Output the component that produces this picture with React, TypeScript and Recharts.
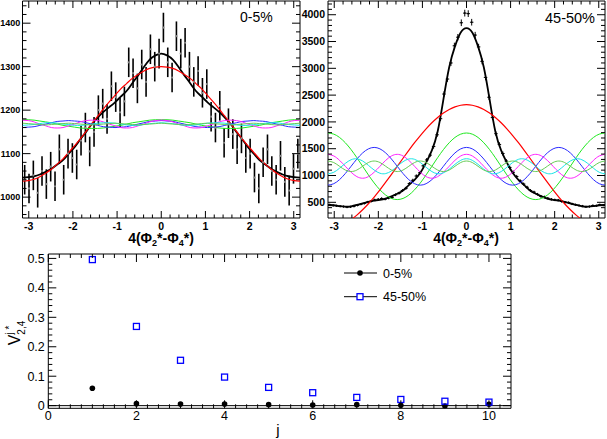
import React from 'react';
import { ComposedChart, Line, Scatter, XAxis, YAxis, ErrorBar, ReferenceArea, ReferenceLine } from 'recharts';

const PI = Math.PI;
const FONT = "'Liberation Sans', Arial, Helvetica, sans-serif";

// ---------------- bottom panel: V_{2,4}^{j*} vs j ----------------
const J_VALUES = [1, 2, 3, 4, 5, 6, 7, 8, 9, 10];
const V_CENT_0_5 = [0.059, 0.0068, 0.0056, 0.0056, 0.0034, 0.0023, 0.0034, 0.001, -0.001, 0.0045];
const V_CENT_45_50 = [0.496, 0.269, 0.154, 0.097, 0.062, 0.044, 0.028, 0.021, 0.015, 0.012];

// ---------------- top panels: curves read at phi = k*pi/24, k = 0..24 (even in phi) ----------------
const LEFT_FIT = [1330, 1326, 1316, 1299, 1280, 1262, 1244, 1231, 1218, 1207, 1196, 1183, 1168, 1150, 1133, 1115, 1100, 1085, 1075, 1065, 1058, 1052, 1048, 1046, 1045];
const LEFT_H1 = [1300, 1299, 1296, 1290, 1282, 1273, 1261, 1249, 1234, 1219, 1203, 1186, 1169, 1151, 1134, 1118, 1103, 1088, 1076, 1064, 1055, 1047, 1041, 1038, 1037];
const LEFT_H2 = [1178, 1178, 1177, 1175, 1173, 1171, 1168, 1165, 1163, 1161, 1159, 1158, 1158, 1158, 1159, 1161, 1163, 1165, 1168, 1171, 1173, 1175, 1177, 1178, 1178];
const LEFT_H3 = [1176, 1175, 1174, 1171, 1168, 1165, 1162, 1161, 1160, 1161, 1162, 1165, 1168, 1171, 1174, 1175, 1176, 1175, 1174, 1171, 1168, 1165, 1162, 1161, 1160];
const LEFT_H4 = [1177, 1176, 1173, 1168, 1164, 1160, 1159, 1160, 1164, 1168, 1173, 1176, 1177, 1176, 1173, 1168, 1164, 1160, 1159, 1160, 1164, 1168, 1173, 1176, 1177];
const LEFT_H5 = [1171, 1170, 1169, 1167, 1165, 1165, 1166, 1168, 1170, 1171, 1171, 1170, 1168, 1166, 1165, 1165, 1167, 1168, 1170, 1171, 1171, 1169, 1167, 1166, 1165];
const LEFT_H6 = [1170, 1169, 1168, 1167, 1166, 1167, 1168, 1169, 1170, 1169, 1168, 1167, 1166, 1167, 1168, 1169, 1170, 1169, 1168, 1167, 1166, 1167, 1168, 1169, 1170];

const RIGHT_FIT = [3750, 3670, 3410, 3020, 2420, 1820, 1470, 1240, 1050, 920, 820, 720, 660, 610, 570, 545, 530, 510, 480, 450, 425, 420, 430, 445, 450];
const RIGHT_H1 = [2321, 2311, 2281, 2233, 2167, 2083, 1984, 1871, 1746, 1612, 1469, 1322, 1172, 1022, 875, 732, 598, 473, 360, 261, 177, 111, 63, 33, 23];
const RIGHT_H2 = [1793, 1772, 1710, 1611, 1483, 1333, 1172, 1011, 861, 733, 634, 572, 551, 572, 634, 733, 861, 1011, 1172, 1333, 1483, 1611, 1710, 1772, 1793];
const RIGHT_H3 = [1524, 1497, 1421, 1307, 1172, 1037, 923, 847, 820, 847, 923, 1037, 1172, 1307, 1421, 1497, 1524, 1497, 1421, 1307, 1172, 1037, 923, 847, 820];
const RIGHT_H4 = [1395, 1365, 1283, 1172, 1061, 979, 949, 979, 1061, 1172, 1283, 1365, 1395, 1365, 1283, 1172, 1061, 979, 949, 979, 1061, 1172, 1283, 1365, 1395];
const RIGHT_H5 = [1313, 1283, 1208, 1118, 1050, 1033, 1073, 1154, 1242, 1302, 1308, 1258, 1172, 1086, 1036, 1042, 1102, 1190, 1271, 1311, 1294, 1226, 1136, 1060, 1031];
const RIGHT_H6 = [1270, 1242, 1172, 1102, 1074, 1102, 1172, 1242, 1270, 1242, 1172, 1102, 1074, 1102, 1172, 1242, 1270, 1242, 1172, 1102, 1074, 1102, 1172, 1242, 1270];

// ---------------- top panels: histogram points, listed outward from phi = 0 ----------------
const LEFT_BINS = 64;
const LEFT_DATA_POS = [1390, 1310, 1275, 1370, 1330, 1355, 1300, 1265, 1290, 1240, 1260, 1185, 1160, 1210, 1125, 1170, 1145, 1110, 1135, 1090, 1100, 1045, 1020, 1080, 1110, 1060, 1040, 1095, 1035, 1015, 1065, 1100];
const LEFT_DATA_NEG = [1330, 1300, 1340, 1265, 1305, 1250, 1285, 1310, 1220, 1195, 1230, 1255, 1180, 1215, 1200, 1150, 1105, 1160, 1130, 1075, 1090, 1100, 1040, 1110, 1025, 1070, 1030, 1060, 1010, 1050, 1020, 1040];
const LEFT_ERR = 34;

const RIGHT_BINS = 80;
const RIGHT_DATA_POS = [4020, 3860, 3620, 3400, 3130, 2830, 2460, 2080, 1780, 1580, 1410, 1270, 1150, 1060, 980, 900, 840, 780, 720, 690, 650, 610, 600, 575, 555, 545, 540, 515, 500, 495, 470, 455, 440, 430, 415, 420, 440, 435, 455, 445];
const RIGHT_ERR_POS = [63, 62, 60, 58, 56, 53, 50, 46, 42, 40, 38, 36, 34, 33, 31, 30, 29, 28, 27, 26, 25, 25, 24, 24, 24, 23, 23, 23, 22, 22, 22, 21, 21, 21, 20, 20, 21, 21, 21, 21];
const RIGHT_DATA_NEG = [4030, 3850, 3580, 3420, 3100, 2800, 2520, 2060, 1760, 1540, 1380, 1290, 1180, 1050, 990, 910, 850, 760, 720, 670, 640, 590, 580, 560, 570, 555, 545, 520, 505, 480, 465, 445, 425, 415, 410, 420, 425, 435, 440, 455];
const RIGHT_ERR_NEG = [63, 62, 60, 58, 56, 53, 50, 45, 42, 39, 37, 36, 34, 32, 31, 30, 29, 28, 27, 26, 25, 24, 24, 24, 24, 24, 23, 23, 22, 22, 22, 21, 21, 20, 20, 20, 21, 21, 21, 21];

// ---------------- layout ----------------
const W = 607;
const H = 439;
const LP = { x0: 22.5, x1: 300, y0: 1, y1: 218 };
const RP = { x0: 328, x1: 605, y0: 1, y1: 218 };
const BP = { x0: 48.3, x1: 511, y0: 254, y1: 408.3 };

const PHI_TICKS = Array.from({ length: 31 }, (_, i) => Math.round((-3 + i * 0.2) * 10) / 10);
const LEFT_Y_TICKS = Array.from({ length: 25 }, (_, i) => 960 + i * 20);
const RIGHT_Y_TICKS = Array.from({ length: 40 }, (_, i) => 300 + i * 100);
const BOT_X_TICKS = Array.from({ length: 42 }, (_, i) => i * 0.25);
const BOT_Y_TICKS = Array.from({ length: 26 }, (_, i) => Math.round(i * 2) / 100);

const curve = (half: number[]) => {
  const pts: { x: number; y: number }[] = [];
  const n = half.length - 1;
  for (let k = n; k >= 1; k--) pts.push({ x: (-k * PI) / n, y: half[k] });
  for (let k = 0; k <= n; k++) pts.push({ x: (k * PI) / n, y: half[k] });
  return pts;
};

const histPoints = (pos: number[], neg: number[], nbins: number, errPos: number[] | number, errNeg: number[] | number) => {
  const bw = (2 * PI) / nbins;
  const pts: { x: number; y: number; ey: number; ex: number }[] = [];
  for (let i = neg.length - 1; i >= 0; i--)
    pts.push({ x: -(i + 0.5) * bw, y: neg[i], ey: typeof errNeg === 'number' ? errNeg : errNeg[i], ex: bw / 2 });
  for (let i = 0; i < pos.length; i++)
    pts.push({ x: (i + 0.5) * bw, y: pos[i], ey: typeof errPos === 'number' ? errPos : errPos[i], ex: bw / 2 });
  return pts;
};

const leftPoints = histPoints(LEFT_DATA_POS, LEFT_DATA_NEG, LEFT_BINS, LEFT_ERR, LEFT_ERR);
const rightPoints = histPoints(RIGHT_DATA_POS, RIGHT_DATA_NEG, RIGHT_BINS, RIGHT_ERR_POS, RIGHT_ERR_NEG);
const cent05 = J_VALUES.map((j, i) => ({ x: j, y: V_CENT_0_5[i] }));
const cent4550 = J_VALUES.map((j, i) => ({ x: j, y: V_CENT_45_50[i] }));

const isInt = (v: number, m = 1) => Math.abs(v / m - Math.round(v / m)) < 1e-6;

type XTickCfg = { plotH: number; isMajor: (v: number) => boolean; majorLen: number; minorLen: number; label: (v: number) => string; fontSize: number; bold: boolean; dy: number };
const makeXTick = (c: XTickCfg) => (props: any) => {
  const { x, y, payload } = props;
  const v = payload.value as number;
  const major = c.isMajor(v);
  const len = major ? c.majorLen : c.minorLen;
  return (
    <g>
      <line x1={x} y1={y} x2={x} y2={y - len} stroke="#000" strokeWidth={1} />
      <line x1={x} y1={y - c.plotH} x2={x} y2={y - c.plotH + len} stroke="#000" strokeWidth={1} />
      {major ? (
        <text x={x} y={y + c.dy} textAnchor="middle" fontFamily={FONT} fontSize={c.fontSize} fontWeight={c.bold ? 'bold' : 'normal'} fill="#000">
          {c.label(v)}
        </text>
      ) : null}
    </g>
  );
};

type YTickCfg = { plotW: number; isMajor: (v: number) => boolean; majorLen: number; minorLen: number; label: (v: number) => string; fontSize: number; bold: boolean; dx: number };
const makeYTick = (c: YTickCfg) => (props: any) => {
  const { x, y, payload } = props;
  const v = payload.value as number;
  const major = c.isMajor(v);
  const len = major ? c.majorLen : c.minorLen;
  return (
    <g>
      <line x1={x} y1={y} x2={x + len} y2={y} stroke="#000" strokeWidth={1} />
      <line x1={x + c.plotW} y1={y} x2={x + c.plotW - len} y2={y} stroke="#000" strokeWidth={1} />
      {major ? (
        <text x={x - c.dx} y={y} dy="0.36em" textAnchor="end" fontFamily={FONT} fontSize={c.fontSize} fontWeight={c.bold ? 'bold' : 'normal'} fill="#000">
          {c.label(v)}
        </text>
      ) : null}
    </g>
  );
};

const dotShape = (r: number, fill: string) => (props: any) => {
  const { cx, cy } = props;
  if (cx == null || cy == null) return <g />;
  return <circle cx={cx} cy={cy} r={r} fill={fill} />;
};

const squareShape = (props: any) => {
  const { cx, cy } = props;
  if (cx == null || cy == null) return <g />;
  return <rect x={cx - 3} y={cy - 3} width={6} height={6} fill="none" stroke="#0000ff" strokeWidth={1.3} />;
};

const HARM_COLORS = ['#ff0000', '#1fe81f', '#2a2aff', '#ff22ff', '#18e6e6', '#66cc55'];

// axes get 1px of room (a 0-sized axis is not drawn); margins compensate so the plot box stays put
const plotMargin = (p: { x0: number; x1: number; y0: number; y1: number }) => ({ left: p.x0 - 1, right: W - p.x1, top: p.y0, bottom: H - p.y1 - 1 });

const TopPanel = (props: { p: typeof LP; domainY: [number, number]; yTicks: number[]; yMajor: number; yFont: number; yDx: number; points: any[]; fit: number[]; harm: number[][]; xErr: boolean; marker: any; errWidth: number; fitWidth: number }) => {
  const { p } = props;
  return (
    <ComposedChart width={W} height={H} margin={plotMargin(p)}>
      <XAxis
        xAxisId="x"
        type="number"
        dataKey="x"
        domain={[-PI, PI]}
        allowDataOverflow
        ticks={PHI_TICKS}
        interval={0}
        height={1}
        axisLine={false}
        tickLine={false}
        tickSize={0}
        tickMargin={0}
        tick={makeXTick({ plotH: p.y1 - p.y0, isMajor: (v) => isInt(v), majorLen: 7, minorLen: 3.5, label: (v) => String(v), fontSize: 10.5, bold: true, dy: 11.5 })}
      />
      <YAxis
        yAxisId="y"
        type="number"
        domain={props.domainY}
        allowDataOverflow
        ticks={props.yTicks}
        interval={0}
        width={1}
        axisLine={false}
        tickLine={false}
        tickSize={0}
        tickMargin={0}
        tick={makeYTick({ plotW: p.x1 - p.x0, isMajor: (v) => isInt(v, props.yMajor), majorLen: 8, minorLen: 4, label: (v) => String(v), fontSize: props.yFont, bold: true, dx: props.yDx })}
      />
      <Scatter xAxisId="x" yAxisId="y" data={props.points} dataKey="y" shape={props.marker} isAnimationActive={false}>
        <ErrorBar dataKey="ey" direction="y" width={0} stroke="#000" strokeWidth={props.errWidth} />
        {props.xErr ? <ErrorBar dataKey="ex" direction="x" width={0} stroke="#000" strokeWidth={1} /> : null}
      </Scatter>
      <Line xAxisId="x" yAxisId="y" data={curve(props.fit)} dataKey="y" type="natural" stroke="#000" strokeWidth={props.fitWidth} dot={false} isAnimationActive={false} />
      {props.harm.map((h, i) => (
        <Line key={i} xAxisId="x" yAxisId="y" data={curve(h)} dataKey="y" type="natural" stroke={HARM_COLORS[i]} strokeWidth={i === 0 ? 1.2 : 1} dot={false} isAnimationActive={false} />
      ))}
      <ReferenceArea xAxisId="x" yAxisId="y" x1={-PI} x2={PI} y1={props.domainY[0]} y2={props.domainY[1]} fill="none" stroke="#000" strokeWidth={1} ifOverflow="visible" />
    </ComposedChart>
  );
};

const PhiTitle = ({ cx }: { cx: number }) => (
  <text x={cx} y={243} textAnchor="middle" fontFamily={FONT} fontSize={14} fontWeight="bold" fill="#000">
    4(Φ<tspan fontSize={9} dy={3}>2</tspan>
    <tspan dy={-3}>*-Φ</tspan>
    <tspan fontSize={9} dy={3}>4</tspan>
    <tspan dy={-3}>*)</tspan>
  </text>
);

export default function App() {
  const abs: React.CSSProperties = { position: 'absolute', left: 0, top: 0 };
  return (
    <div style={{ position: 'absolute', left: 0, top: 0, width: W, height: H, background: '#fff', overflow: 'hidden' }}>
      <div style={abs}>
        <TopPanel p={LP} domainY={[952, 1451]} yTicks={LEFT_Y_TICKS} yMajor={100} yFont={9} yDx={2.3} points={leftPoints} fit={LEFT_FIT} harm={[LEFT_H1, LEFT_H2, LEFT_H3, LEFT_H4, LEFT_H5, LEFT_H6]} xErr={false} marker={dotShape(1.1, '#888')} errWidth={1.6} fitWidth={1.8} />
      </div>
      <div style={abs}>
        <TopPanel p={RP} domainY={[207, 4256]} yTicks={RIGHT_Y_TICKS} yMajor={500} yFont={10.5} yDx={3} points={rightPoints} fit={RIGHT_FIT} harm={[RIGHT_H1, RIGHT_H2, RIGHT_H3, RIGHT_H4, RIGHT_H5, RIGHT_H6]} xErr={true} marker={dotShape(0.8, '#000')} errWidth={1} fitWidth={1.8} />
      </div>
      <div style={abs}>
        <ComposedChart width={W} height={H} margin={plotMargin(BP)}>
          <XAxis
            xAxisId="x"
            type="number"
            dataKey="x"
            domain={[0, 10.5]}
            allowDataOverflow
            ticks={BOT_X_TICKS}
            interval={0}
            height={1}
            axisLine={false}
            tickLine={false}
            tickSize={0}
            tickMargin={0}
            tick={makeXTick({ plotH: BP.y1 - BP.y0, isMajor: (v) => isInt(v, 2), majorLen: 8, minorLen: 4, label: (v) => String(v), fontSize: 12.5, bold: false, dy: 11.5 })}
          />
          <YAxis
            yAxisId="y"
            type="number"
            domain={[-0.009, 0.515]}
            allowDataOverflow
            ticks={BOT_Y_TICKS}
            interval={0}
            width={1}
            axisLine={false}
            tickLine={false}
            tickSize={0}
            tickMargin={0}
            tick={makeYTick({ plotW: BP.x1 - BP.x0, isMajor: (v) => isInt(v, 0.1), majorLen: 8, minorLen: 4, label: (v) => (v === 0 ? '0' : v.toFixed(1)), fontSize: 12.5, bold: false, dx: 3.5 })}
          />
          <ReferenceLine xAxisId="x" yAxisId="y" y={0} stroke="#000" strokeWidth={1} />
          <Scatter xAxisId="x" yAxisId="y" data={cent05} dataKey="y" shape={dotShape(2.8, '#000')} isAnimationActive={false} />
          <Scatter xAxisId="x" yAxisId="y" data={cent4550} dataKey="y" shape={squareShape} isAnimationActive={false} />
          <ReferenceArea xAxisId="x" yAxisId="y" x1={0} x2={10.5} y1={-0.009} y2={0.515} fill="none" stroke="#000" strokeWidth={1} ifOverflow="visible" />
        </ComposedChart>
      </div>
      <svg width={W} height={H} style={{ position: 'absolute', left: 0, top: 0, pointerEvents: 'none' }}>
        <text x={240} y={22} fontFamily={FONT} fontSize={14} fill="#000">0-5%</text>
        <text x={545} y={22.5} fontFamily={FONT} fontSize={14.5} fill="#000">45-50%</text>
        <PhiTitle cx={161} />
        <PhiTitle cx={466} />
        <text x={278} y={435} textAnchor="middle" fontFamily={FONT} fontSize={15} fill="#000">j</text>
        <text transform="translate(20,333) rotate(-90)" textAnchor="middle" fontFamily={FONT} fontSize={16} fill="#000">
          V<tspan fontSize={10} dy={-7}>j *</tspan>
          <tspan fontSize={10} dx={-9} dy={12}>2,4</tspan>
        </text>
        <g>
          <line x1={344} y1={273} x2={377} y2={273} stroke="#000" strokeWidth={1} />
          <circle cx={360} cy={273} r={2.8} fill="#000" />
          <text x={383} y={277.5} fontFamily={FONT} fontSize={12.5} fill="#000">0-5%</text>
          <line x1={344} y1={296.7} x2={377} y2={296.7} stroke="#000" strokeWidth={1} />
          <rect x={357} y={293.7} width={6} height={6} fill="#fff" stroke="#0000ff" strokeWidth={1.3} />
          <text x={383} y={301} fontFamily={FONT} fontSize={12.5} fill="#000">45-50%</text>
        </g>
      </svg>
    </div>
  );
}
